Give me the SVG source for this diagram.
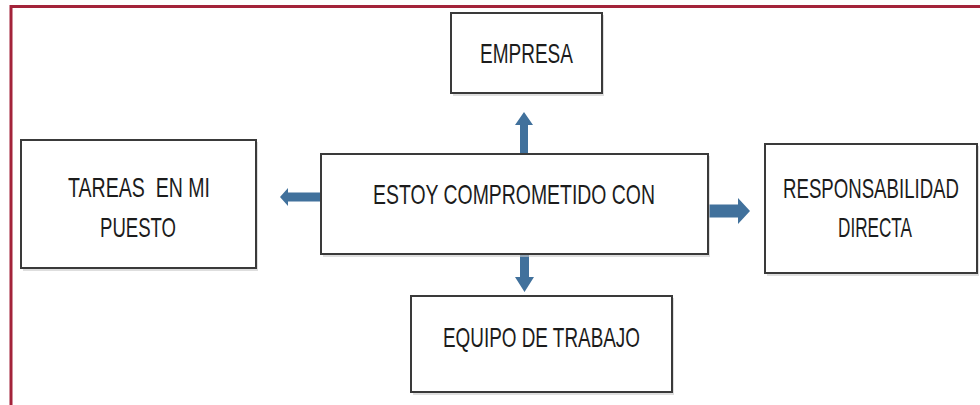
<svg xmlns="http://www.w3.org/2000/svg" width="980" height="405" viewBox="0 0 980 405">
<style>
.box{fill:#fff;stroke:#3a3a3a;stroke-width:2}
.shadow{fill:#c8c8c8;opacity:0.6}
.lbl{font-family:"Liberation Sans",Arial,sans-serif;font-size:28px;fill:#1c1c1c;text-anchor:start}
.arr{fill:#41719c}
</style>
<rect width="980" height="405" fill="#fff"/>
<path d="M11,405 V6.5 H980" fill="none" stroke="#a3233a" stroke-width="3"/>
<g id="connectors">
<path class="arr" d="M520,158 V125 H515 L524,112 L533,125 H528 V158 Z"/>
<path class="arr" d="M520,250 V277 H515 L524.5,292 L534,277 H529 V250 Z"/>
<path class="arr" d="M322,192.5 H288 V188 L280,197 L288,206 V201.5 H322 Z"/>
<path class="arr" d="M708,204.5 H738 V198 L750,211 L738,224 V217.5 H708 Z"/>
</g>
<g id="empresa">
<rect class="shadow" x="453" y="15" width="151" height="81"/>
<rect class="box" x="451" y="13" width="151" height="80"/>
<text class="lbl" x="480" y="63" textLength="93" lengthAdjust="spacingAndGlyphs">EMPRESA</text>
</g>
<g id="estoy">
<rect class="shadow" x="323" y="156" width="387" height="101"/>
<rect class="box" x="321" y="154" width="387" height="100"/>
<text class="lbl" x="373" y="204" textLength="282" lengthAdjust="spacingAndGlyphs">ESTOY COMPROMETIDO CON</text>
</g>
<g id="tareas">
<rect class="shadow" x="23" y="142" width="235" height="129"/>
<rect class="box" x="21" y="140" width="235" height="128"/>
<text class="lbl" x="68" y="197" textLength="142" lengthAdjust="spacingAndGlyphs" xml:space="preserve">TAREAS  EN MI</text>
<text class="lbl" x="100" y="237" textLength="76" lengthAdjust="spacingAndGlyphs">PUESTO</text>
</g>
<g id="responsabilidad">
<rect class="shadow" x="767" y="146" width="212" height="130"/>
<rect class="box" x="765" y="144" width="212" height="129"/>
<text class="lbl" x="783" y="198" textLength="176" lengthAdjust="spacingAndGlyphs">RESPONSABILIDAD</text>
<text class="lbl" x="838" y="237" textLength="74" lengthAdjust="spacingAndGlyphs">DIRECTA</text>
</g>
<g id="equipo">
<rect class="shadow" x="413" y="298" width="261" height="97"/>
<rect class="box" x="411" y="296" width="261" height="96"/>
<text class="lbl" x="443" y="347" textLength="197" lengthAdjust="spacingAndGlyphs">EQUIPO DE TRABAJO</text>
</g>
</svg>
